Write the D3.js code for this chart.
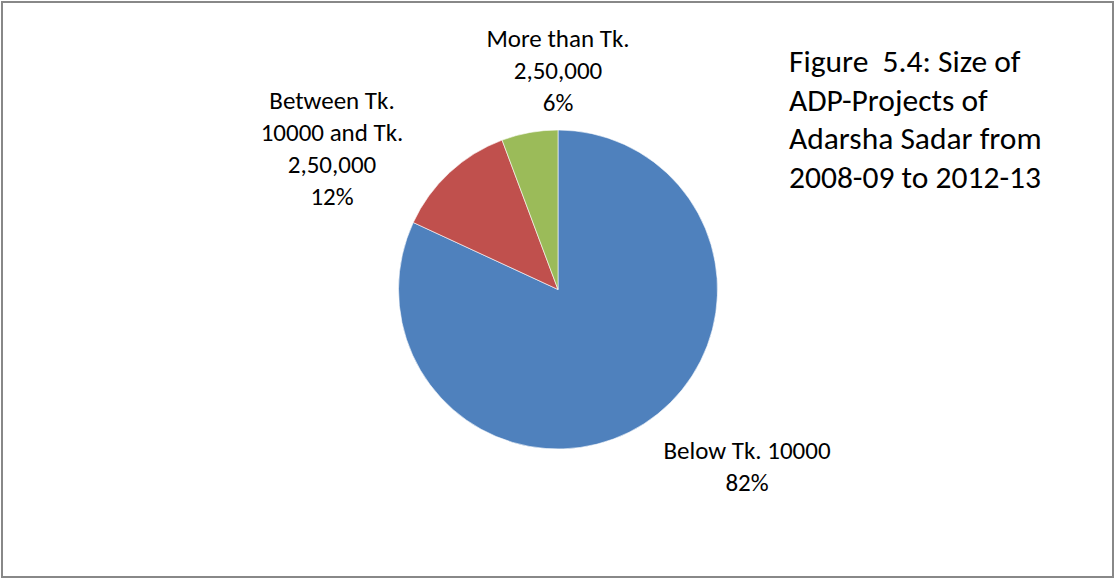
<!DOCTYPE html>
<html>
<head>
<meta charset="utf-8">
<script src="https://cdn.jsdelivr.net/npm/d3@7"></script>
<style>
  html, body { margin: 0; padding: 0; background: #fff; }
  #viz { width: 1115px; height: 579px; }
</style>
</head>
<body>
<div id="viz"></div>
<script>
// slice data (clockwise from 12 o'clock)
const categories = ['Below Tk. 10000', 'Between Tk. 10000 and Tk. 2,50,000', 'More than Tk. 2,50,000'];
const labelLines = [['Below Tk. 10000'], ['Between Tk.', '10000 and Tk.', '2,50,000'], ['More than Tk.', '2,50,000']];
const values = [81.9, 12.4, 5.7];
const colors = ['#4F81BD', '#C0504D', '#9BBB59'];
const titleLines = ['Figure  5.4: Size of', 'ADP-Projects of', 'Adarsha Sadar from', '2008-09 to 2012-13'];

const width = 1115;
const height = 579;
const fontFamily = 'Carlito, Calibri, Lato, sans-serif';

const svg = d3.select('#viz')
    .append('svg')
    .attr('width', width)
    .attr('height', height);

// chart border
svg.append('rect')
    .attr('x', 2)
    .attr('y', 2)
    .attr('width', width - 4)
    .attr('height', height - 4)
    .style('fill', 'white')
    .style('stroke', '#888')
    .style('stroke-width', 2);

const cx = 558;
const cy = 289.5;
const radius = 159.5;

const pie = d3.pie()
    .sort(null)
    .value((d) => d);
const arcs = pie(values);
const arc = d3.arc()
    .innerRadius(0)
    .outerRadius(radius);

const pieG = svg.append('g')
    .attr('transform', `translate(${cx}, ${cy})`);

pieG.selectAll('path')
    .data(arcs)
    .enter()
    .append('path')
    .attr('d', arc)
    .style('fill', (d, i) => colors[i])
    .style('stroke', 'white')
    .style('stroke-width', 0.6);

// label blocks: centre x and first baseline, relative to the pie centre
const labelLayout = [
  { dx: 189, y0: 169 },
  { dx: -226, y0: -181 },
  { dx: 0, y0: -243 },
];
const lineGap = 32;
const total = d3.sum(values);
const pct = d3.format('.0%');

const labels = pieG.selectAll('.sliceLabel')
    .data(arcs)
    .enter()
    .append('text')
    .attr('class', 'sliceLabel')
    .style('text-anchor', 'middle')
    .style('font-family', fontFamily)
    .style('font-size', '25px')
    .style('fill', '#000');

labels.each(function (d, i) {
  const t = d3.select(this);
  const lines = labelLines[i].concat([pct(d.value / total)]);
  lines.forEach((line, j) => {
    t.append('tspan')
        .attr('x', labelLayout[i].dx)
        .attr('y', labelLayout[i].y0 + j * lineGap)
        .text(line);
  });
});

// title block
const title = svg.append('text')
    .attr('class', 'chartTitle')
    .style('font-family', fontFamily)
    .style('font-size', '31.5px')
    .style('white-space', 'pre')
    .style('fill', '#000');
titleLines.forEach((line, j) => {
  title.append('tspan')
      .attr('x', 789)
      .attr('y', 72 + j * 38.5)
      .text(line);
});
</script>
</body>
</html>
